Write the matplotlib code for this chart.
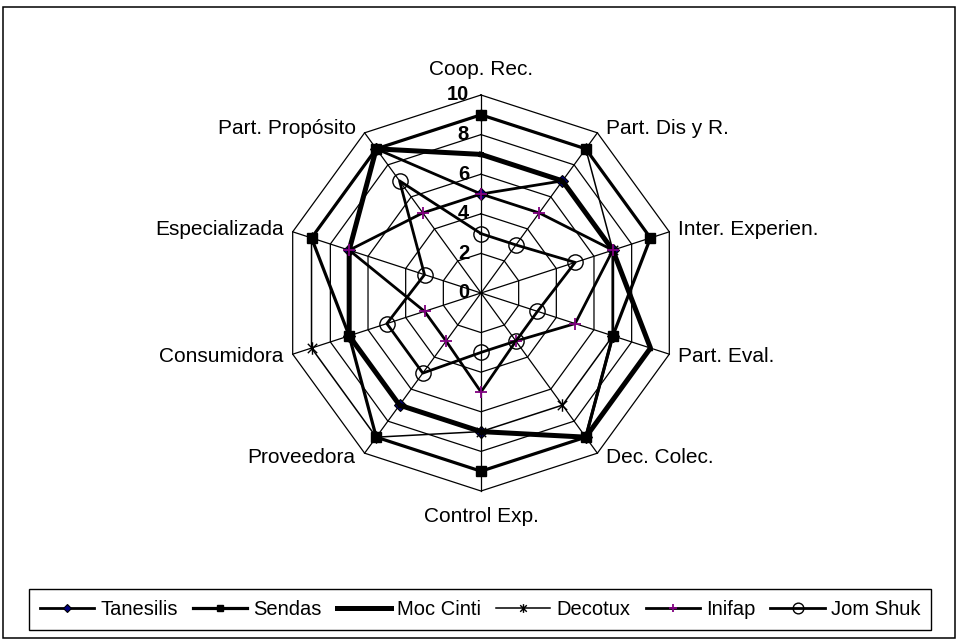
import numpy as np
import matplotlib
matplotlib.use('Agg')
import matplotlib.pyplot as plt
from matplotlib.path import Path
from matplotlib.patches import Rectangle

plt.rcParams['font.family'] = ['Liberation Sans', 'DejaVu Sans']

# chart data
categories = ['Coop. Rec.', 'Part. Dis y R.', 'Inter. Experien.', 'Part. Eval.', 'Dec. Colec.',
              'Control Exp.', 'Proveedora', 'Consumidora', 'Especializada', 'Part. Propósito']
series_names = ['Tanesilis', 'Sendas', 'Moc Cinti', 'Decotux', 'Inifap', 'Jom Shuk']
tanesilis = [5, 7, 7, 7, 9, 7, 7, 7, 7, 9]
sendas = [9, 9, 9, 7, 9, 9, 9, 7, 9, 9]
moc_cinti = [7, 7, 7, 9, 9, 7, 7, 7, 7, 9]
decotux = [9, 9, 7, 7, 7, 7, 9, 9, 9, 9]
inifap = [5, 5, 7, 5, 3, 5, 3, 3, 7, 5]
jom_shuk = [3, 3, 5, 3, 3, 3, 5, 5, 3, 7]
ticks = [0, 2, 4, 6, 8, 10]

# excel style star marker (vertical bar + X)
star = Path([(0, -1), (0, 1), (-0.75, -0.75), (0.75, 0.75), (-0.75, 0.75), (0.75, -0.75)],
            [Path.MOVETO, Path.LINETO, Path.MOVETO, Path.LINETO, Path.MOVETO, Path.LINETO])

styles = [
    dict(color='black', lw=2.0, marker='D', ms=6, mfc='#000080', mec='black', mew=0.8),
    dict(color='black', lw=2.3, marker='s', ms=7, mfc='black', mec='black'),
    dict(color='black', lw=3.6, marker='^', ms=3, mfc='black', mec='black'),
    dict(color='black', lw=1.1, marker=star, ms=9, mfc='none', mec='black', mew=1.0),
    dict(color='black', lw=2.0, marker='+', ms=9, mfc='none', mec='#800080', mew=1.3),
    dict(color='black', lw=2.0, marker='o', ms=11, mfc='none', mec='black', mew=1.0),
]

n = len(categories)
theta = np.deg2rad(90 - 360.0 / n * np.arange(n))
cx = np.cos(theta)
cy = np.sin(theta)

fig = plt.figure(figsize=(9.64, 6.39), dpi=100)
R = 12.5
ax = fig.add_axes([233.5 / 964, 98.5 / 639, 495 / 964, 495 / 639])
ax.set_xlim(-R, R)
ax.set_ylim(-R, R)
ax.axis('off')

# decagon grid + spokes
for t in ticks[1:]:
    ax.plot(np.append(cx, cx[0]) * t, np.append(cy, cy[0]) * t, color='black', lw=0.9, zorder=1)
for i in range(n):
    ax.plot([0, cx[i] * ticks[-1]], [0, cy[i] * ticks[-1]], color='black', lw=0.9, zorder=1)

# tick labels on the top spoke
for t in ticks:
    ax.text(-0.6, t, str(t), ha='right', va='center', fontsize=14.5, fontweight='bold')

# category labels
for i, lab in enumerate(categories):
    x = cx[i] * 10
    y = cy[i] * 10
    if abs(cx[i]) < 0.01:
        ax.text(x, y + 1.3 * np.sign(cy[i]), lab, ha='center', va='center', fontsize=15)
    elif cx[i] > 0:
        ax.text(x + 0.45, y + 0.3 * cy[i], lab, ha='left', va='center', fontsize=15)
    else:
        ax.text(x - 0.45, y + 0.3 * cy[i], lab, ha='right', va='center', fontsize=15)

# series
all_data = [tanesilis, sendas, moc_cinti, decotux, inifap, jom_shuk]
handles = []
for k, vals in enumerate(all_data):
    v = np.array(vals, dtype=float)
    xs = np.append(v * cx, v[0] * cx[0])
    ys = np.append(v * cy, v[0] * cy[0])
    st = dict(styles[k])
    mk = dict(marker=st.pop('marker'), ms=st.pop('ms'), mfc=st.pop('mfc'), mec=st.pop('mec'),
              mew=st.pop('mew', 1.0))
    ax.plot(xs, ys, zorder=2 + k, **st)
    ax.plot(v * cx, v * cy, ls='none', zorder=2 + k, **mk)
    h, = ax.plot([], [], label=series_names[k], color=st['color'], lw=st['lw'], **mk)
    handles.append(h)

leg = fig.legend(handles=handles, ncol=6, loc='center', bbox_to_anchor=(480 / 964, 1 - 609.5 / 639),
                 frameon=True, fancybox=False, edgecolor='black', framealpha=1, fontsize=14.5,
                 handlelength=2.7, handletextpad=0.3, columnspacing=0.75, borderpad=0.55,
                 markerscale=0.7)
leg.get_frame().set_linewidth(1.0)

# chart border
fig.patches.append(Rectangle((3 / 964, 1 / 639), 952 / 964, 631 / 639, transform=fig.transFigure,
                             fill=False, edgecolor='black', lw=1.1))

fig.savefig('out.png', dpi=100)
